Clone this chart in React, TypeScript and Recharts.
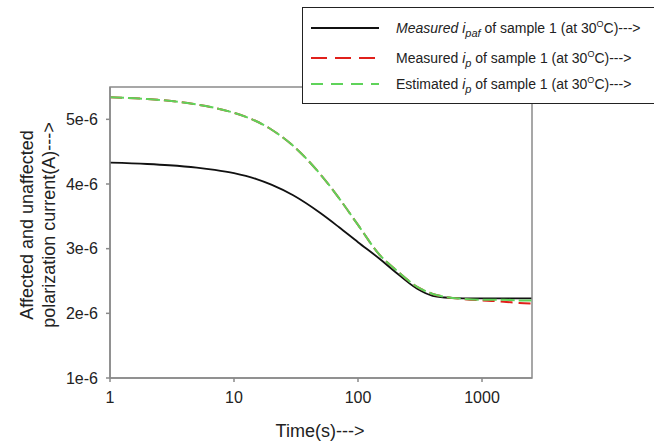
import React from 'react'
import {
  LineChart, Line, XAxis, YAxis, Legend, Label, ReferenceArea,
} from 'recharts'

const FONT = '"Liberation Sans", Arial, sans-serif'

// time in seconds, currents in units of 1e-6 A
const TIME = [1, 2, 3, 5, 7, 10, 15, 20, 30, 50, 70, 100, 150, 200, 300, 400, 500, 700, 1000, 1500, 2000, 2500]
const I_PAF = [4.33, 4.309, 4.29, 4.254, 4.219, 4.168, 4.08, 3.99, 3.825, 3.547, 3.335, 3.10, 2.84, 2.64, 2.38, 2.27, 2.245, 2.232, 2.23, 2.23, 2.23, 2.23]
const IP_MEASURED = [5.34, 5.314, 5.286, 5.23, 5.177, 5.10, 4.974, 4.843, 4.59, 4.144, 3.786, 3.367, 2.90, 2.68, 2.41, 2.30, 2.255, 2.222, 2.20, 2.18, 2.16, 2.15]
const IP_ESTIMATED = [5.34, 5.314, 5.286, 5.23, 5.177, 5.10, 4.974, 4.843, 4.59, 4.144, 3.786, 3.367, 2.90, 2.68, 2.41, 2.30, 2.255, 2.225, 2.21, 2.21, 2.20, 2.20]

const X_TICKS = [1, 10, 100, 1000]
const Y_TICKS = [1, 2, 3, 4, 5]

const data = TIME.map((t, i) => ({
  t,
  paf: I_PAF[i],
  meas: IP_MEASURED[i],
  est: IP_ESTIMATED[i],
}))

const AXIS = '#8a8a8a'

function LegendBox() {
  const row = (top: number, stroke: string, dash: string | undefined, label: React.ReactNode) => (
    <div style={{ position: 'absolute', left: 0, top, height: 20, width: '100%' }}>
      <svg width={80} height={20} style={{ position: 'absolute', left: 6, top: 0 }}>
        <line x1={2} y1={10} x2={70} y2={10} stroke={stroke} strokeWidth={2} strokeDasharray={dash} />
      </svg>
      <div style={{ position: 'absolute', left: 93, top: 1, whiteSpace: 'nowrap', color: '#222' }}>{label}</div>
    </div>
  )
  const deg = <>30<sup style={{ fontSize: 9 }}>O</sup>C)---&gt;</>
  return (
    <div style={{
      position: 'relative', width: 362, height: 97, border: '1px solid #222',
      background: '#fff', boxSizing: 'border-box', fontFamily: FONT, fontSize: 14,
    }}>
      {row(10, '#111', undefined,
        <><i>Measured i<sub style={{ fontSize: 11 }}>paf</sub></i> of sample 1 (at {deg}</>)}
      {row(40, '#e0201b', '16 8',
        <>Measured <i>i<sub style={{ fontSize: 11 }}>p</sub></i> of sample 1 (at {deg}</>)}
      {row(66, '#5fd35a', '12 8',
        <>Estimated <i>i<sub style={{ fontSize: 11 }}>p</sub></i> of sample 1 (at {deg}</>)}
    </div>
  )
}

export default function App() {
  return (
    <div style={{ position: 'absolute', left: 0, top: 0, width: 654, height: 441, background: '#fff', fontFamily: FONT }}>
      <LineChart width={654} height={441} data={data} margin={{ top: 87, right: 122, bottom: 0, left: 0 }}>
        <ReferenceArea x1={1} x2={2530} y1={1} y2={5.5} fill="none" stroke={AXIS} strokeWidth={1.5} ifOverflow="visible" />
        <XAxis
          dataKey="t" type="number" scale="log" domain={[1, 2530]} ticks={X_TICKS}
          allowDataOverflow height={63} stroke={AXIS} strokeWidth={1.5} tickSize={4}
          tick={{ fontSize: 16, fill: '#222', fontFamily: FONT }} tickMargin={10}
        >
          <Label
            content={() => (
              <text x={320} y={437} textAnchor="middle" fontSize={18} fill="#222" fontFamily={FONT}>Time(s)---&gt;</text>
            )}
          />
        </XAxis>
        <YAxis
          type="number" domain={[1, 5.5]} ticks={Y_TICKS} allowDataOverflow width={110}
          stroke={AXIS} strokeWidth={1.5} tickSize={4} tickMargin={8}
          tickFormatter={(v) => `${v}e-6`}
          tick={{ fontSize: 16, fill: '#222', fontFamily: FONT }}
        >
          <Label
            content={() => (
              <g fontSize={18} fill="#222" fontFamily={FONT} textAnchor="middle">
                <text x={0} y={0} transform="translate(33,225) rotate(-90)">Affected and unaffected</text>
                <text x={0} y={0} transform="translate(55,225) rotate(-90)">polarization current(A)---&gt;</text>
              </g>
            )}
          />
        </YAxis>
        <Line type="monotone" dataKey="paf" stroke="#111" strokeWidth={1.8} dot={false} isAnimationActive={false} />
        <Line type="monotone" dataKey="meas" stroke="#e0201b" strokeWidth={2} strokeDasharray="12 6" dot={false} isAnimationActive={false} />
        <Line type="monotone" dataKey="est" stroke="#5fd35a" strokeWidth={2} strokeDasharray="14 4" dot={false} isAnimationActive={false} />
        <Legend
          layout="vertical" align="center" verticalAlign="middle"
          wrapperStyle={{ position: 'absolute', left: 302, top: 7, width: 362, height: 97 }}
          content={() => <LegendBox />}
        />
      </LineChart>
    </div>
  )
}
